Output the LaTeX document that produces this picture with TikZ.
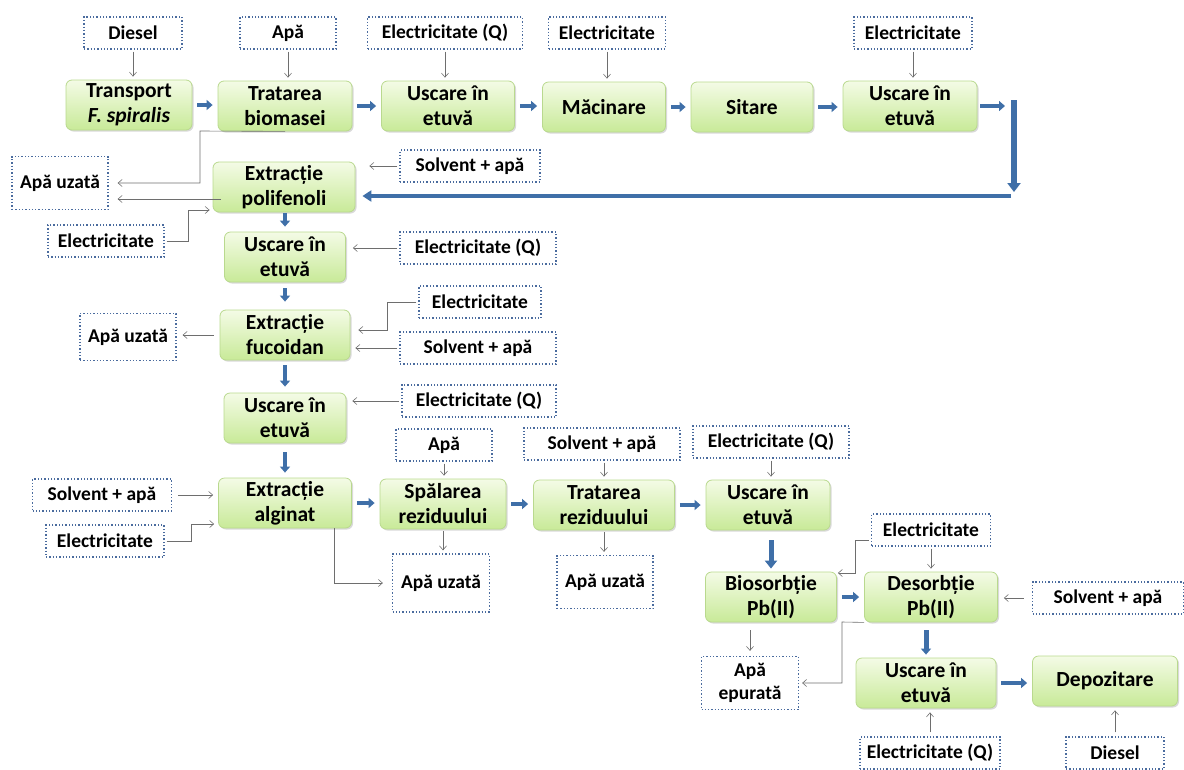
\documentclass[tikz,border=0pt]{standalone}
\usepackage{fontspec}
\setmainfont{Carlito}
\usetikzlibrary{arrows.meta,shadows,calc}
\definecolor{Frame}{HTML}{4A6B9E}
\definecolor{Flow}{HTML}{3F6FA8}
\definecolor{Wire}{HTML}{6E6E6E}
\definecolor{BoxTop}{HTML}{F4FBE6}
\definecolor{BoxBot}{HTML}{C8EA98}
\definecolor{BoxLine}{HTML}{B9D98E}

\begin{document}
\begin{tikzpicture}[x=1pt,y=-1pt,
  proc/.style={rounded corners=6pt, draw=BoxLine, line width=0.8pt, top color=BoxTop, bottom color=BoxBot,
    minimum width=130pt, minimum height=50pt, align=center, inner sep=2pt,
    font=\fontsize{21.5}{25}\selectfont\bfseries,
    drop shadow={shadow xshift=1.5pt, shadow yshift=-1.5pt, opacity=0.25, fill=black!60}},
  res/.style={draw=Frame, dotted, line width=1.3pt, fill=white, minimum height=32pt, align=center,
    inner sep=2pt, font=\fontsize{19.5}{23}\selectfont\bfseries},
  feed/.style={draw=Wire, line width=0.6pt, -{Straight Barb[length=4pt,width=7pt]}, shorten <=2pt, shorten >=3pt},
  flow/.style={draw=Flow, line width=4pt, -{Triangle[length=6pt,width=10pt]}, shorten <=5pt, shorten >=5pt}]
  \useasboundingbox (0,0) rectangle (1184,769);
  \clip (0,0) rectangle (1184,769);

  \node[res, minimum width=98pt] (dsl1) at (133,33) {Diesel};
  \node[res, minimum width=96pt] (apa1) at (288,33) {Apă};
  \node[res, minimum width=155pt] (elq1) at (445,33) {Electricitate (Q)};
  \node[res, minimum width=117pt] (el1) at (607,33) {Electricitate};
  \node[res, minimum width=118pt] (el2) at (913,33) {Electricitate};

  \node[proc, minimum width=126pt] (transp) at (129,105) {Transport\\\textit{F. spiralis}};
  \node[proc, minimum width=134pt] (tratb) at (285,106) {Tratarea\\biomasei};
  \node[proc, minimum width=133pt] (usc1) at (448,106) {Uscare în\\etuvă};
  \node[proc, minimum width=123pt] (macin) at (604,107) {Măcinare};
  \node[proc, minimum width=122pt] (sitare) at (752,107) {Sitare};
  \node[proc, minimum width=134pt] (usc2) at (910,106) {Uscare în\\etuvă};

  \foreach \a/\b in {dsl1/transp,apa1/tratb,elq1/usc1,el1/macin,el2/usc2}
    \draw[feed] (\a.south) -- (\a.south |- \b.north);
  \foreach \a/\b in {transp/tratb,tratb/usc1,usc1/macin,macin/sitare,sitare/usc2}
    \draw[flow] (\a.east) -- (\a.east -| \b.west);

  \node[proc, minimum width=142pt] (polif) at (284,187) {Extracție\\polifenoli};
  \node[res, minimum width=96pt, minimum height=53pt] (uz1) at (60,183) {Apă uzată};
  \node[res, minimum width=140pt] (solv1) at (470,166) {Solvent + apă};
  \node[res, minimum width=116pt] (el3) at (106,241) {Electricitate};

  \coordinate (turn) at (1014,100);
  \coordinate (drop) at (1014,192);
  \coordinate (back) at (1011,196);
  \draw[flow, shorten <=3pt, shorten >=9pt] (usc2.east) -- (usc2.east -| turn);
  \draw[flow, line width=5.5pt, -{Triangle[length=9pt,width=13pt]}, shorten <=0pt, shorten >=0pt] (turn) -- (drop);
  \draw[flow, -{Triangle[length=9pt,width=11pt]}, shorten <=0pt, shorten >=7pt] (back) -- (back -| polif.east);

  \coordinate (bend1) at (200,131);
  \coordinate (bend2) at (188,210);
  \draw[feed, shorten >=14pt] (solv1.west) -- (solv1.west -| polif.east);
  \draw[feed, shorten <=0pt, shorten >=9pt] (tratb.south) -- (bend1) |- (uz1.east);
  \draw[feed, shorten <=-8pt, shorten >=9pt] ([yshift=-12pt]polif.west) -- ([yshift=-12pt]polif.west -| uz1.east);
  \draw[feed] (el3.east) -| (bend2) -- (bend2 -| polif.west);

  \node[proc, minimum width=121pt] (usc3) at (285,257) {Uscare în\\etuvă};
  \node[res, minimum width=156pt] (elq2) at (478,248) {Electricitate (Q)};
  \draw[flow, line width=3.5pt, shorten <=1pt, shorten >=5pt] (polif.south -| usc3) -- (usc3.north);
  \draw[feed, shorten >=7pt] (elq2.west) -- (elq2.west -| usc3.east);

  \node[proc] (fuco) at (285,335) {Extracție\\fucoidan};
  \node[res, minimum width=96pt, minimum height=47pt] (uz2) at (128,337) {Apă uzată};
  \node[res, minimum width=122pt] (el4) at (480,302) {Electricitate};
  \node[res, minimum width=156pt] (solv2) at (478,348) {Solvent + apă};
  \coordinate (bend3) at (387,330);
  \draw[flow, line width=3.5pt, shorten <=6pt, shorten >=8pt] (usc3.south) -- (fuco.north);
  \draw[feed, shorten <=6pt, shorten >=6pt] (fuco.west) -- (fuco.west -| uz2.east);
  \draw[feed, shorten >=8pt] (el4.west) -| (bend3) -- (bend3 -| fuco.east);
  \draw[feed, shorten >=5pt] (solv2.west) -- (solv2.west -| fuco.east);

  \node[proc, minimum width=122pt] (usc4) at (285,418) {Uscare în\\etuvă};
  \node[res, minimum width=154pt] (elq3) at (479,401) {Electricitate (Q)};
  \draw[flow, line width=3.5pt, shorten <=5pt, shorten >=6pt] (fuco.south) -- (usc4.north);
  \draw[feed, shorten >=6pt] (elq3.west) -- (elq3.west -| usc4.east);

  \node[proc, minimum width=133pt] (algin) at (285,503) {Extracție\\alginat};
  \node[res, minimum width=139pt] (solv3) at (102,495) {Solvent + apă};
  \node[res, minimum width=118pt] (el5) at (105,541) {Electricitate};
  \node[res, minimum width=97pt, minimum height=58pt] (uz3) at (441,583) {Apă uzată};
  \coordinate (bend4) at (191,524);
  \draw[flow, line width=3.5pt, shorten <=9pt, shorten >=5pt] (usc4.south) -- (algin.north);
  \draw[feed, shorten <=6pt, shorten >=5pt] (solv3.east) -- (solv3.east -| algin.west);
  \draw[feed, shorten >=4pt] (el5.east) -| (bend4) -- (bend4 -| algin.west);
  \draw[feed, shorten <=0pt, shorten >=9pt] ([xshift=-18pt]algin.south east) |- (uz3.west);

  \node[proc, minimum width=126pt] (spal) at (443,504) {Spălarea\\reziduului};
  \node[res, minimum width=96pt] (apa2) at (444,445) {Apă};
  \node[proc, minimum width=141pt] (tratr) at (604,505) {Tratarea\\reziduului};
  \node[res, minimum width=156pt] (solv4) at (602,444) {Solvent + apă};
  \node[res, minimum width=96pt, minimum height=53pt] (uz4) at (605,582) {Apă uzată};
  \node[proc, minimum width=124pt] (usc5) at (768,505) {Uscare în\\etuvă};
  \node[res, minimum width=156pt] (elq4) at (771,442) {Electricitate (Q)};
  \foreach \a/\b in {algin/spal,spal/tratr,tratr/usc5}
    \draw[flow] (\a.east) -- (\a.east -| \b.west);
  \draw[feed] (apa2.south) -- (apa2.south |- spal.north);
  \draw[feed] (spal.south) -- (spal.south |- uz3.north);
  \draw[feed] (tratr.north |- solv4.south) -- (tratr.north);
  \draw[feed] (tratr.south) -- (tratr.south |- uz4.north);
  \draw[feed] (elq4.south) -- (elq4.south |- usc5.north);

  \node[proc, minimum width=131pt] (bios) at (771,597) {Biosorbție\\Pb(II)};
  \node[proc, minimum width=133pt] (desorb) at (931,597) {Desorbție\\Pb(II)};
  \node[res, minimum width=119pt] (el6) at (931,530) {Electricitate};
  \node[res, minimum width=151pt] (solv5) at (1108,598) {Solvent + apă};
  \node[res, minimum width=97pt, minimum height=53pt] (epur) at (750,683) {Apă\\epurată};
  \coordinate (bend6) at (855,573);
  \coordinate (bend7) at (842,622);
  \draw[flow, line width=5pt, -{Triangle[length=8pt,width=12pt]}, shorten <=10pt, shorten >=3pt] (usc5.south -| bios) -- (bios.north);
  \draw[flow] (bios.east) -- (bios.east -| desorb.west);
  \draw[feed] (el6.south) -- (el6.south |- desorb.north);
  \draw[feed, shorten >=1pt] ([yshift=-10pt]el6.west) -| (bend6) -- (bend6 -| bios.east);
  \draw[feed, shorten <=8pt, shorten >=6pt] (solv5.west) -- (solv5.west -| desorb.east);
  \draw[feed, shorten <=8pt, shorten >=5pt] (bios.south -| epur) -- (epur.north);
  \draw[feed, shorten <=0pt] (desorb.south west) -- (bend7) |- (epur.east);

  \node[proc, minimum width=140pt] (usc6) at (926,683) {Uscare în\\etuvă};
  \node[proc, minimum width=145pt] (depoz) at (1105,681) {Depozitare};
  \node[res, minimum width=140pt] (elq5) at (930,753) {Electricitate (Q)};
  \node[res, minimum width=98pt] (dsl2) at (1115,753) {Diesel};
  \draw[flow, line width=5pt, shorten <=8pt, shorten >=3pt] (desorb.south -| usc6) -- (usc6.north);
  \draw[flow] (usc6.east) -- (usc6.east -| depoz.west);
  \draw[feed, shorten <=4pt, shorten >=4pt] (elq5.north) -- (elq5.north |- usc6.south);
  \draw[feed, shorten <=4pt, shorten >=4pt] (dsl2.north) -- (dsl2.north |- depoz.south);
\end{tikzpicture}
\end{document}
